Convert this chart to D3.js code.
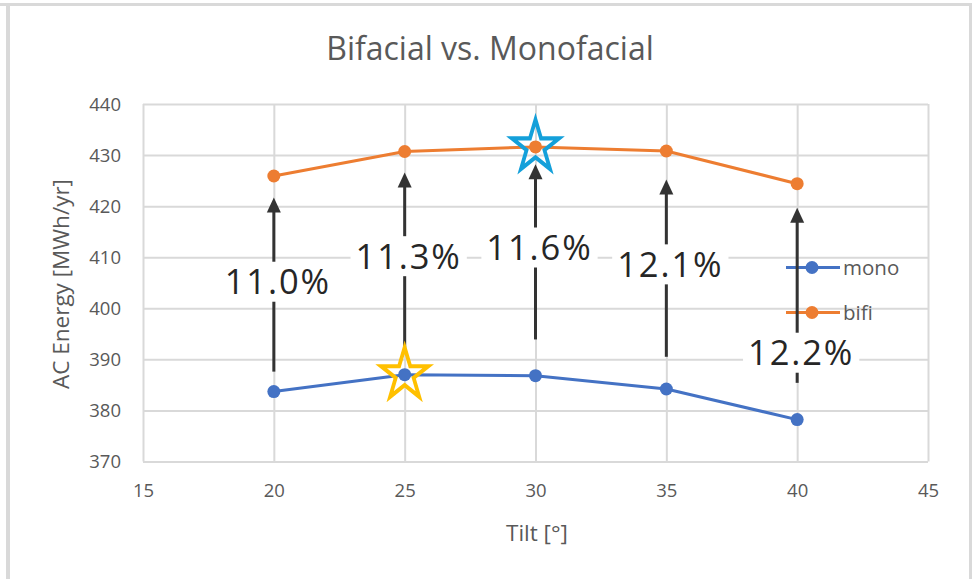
<!DOCTYPE html>
<html>
<head>
<meta charset="utf-8">
<script src="https://cdn.jsdelivr.net/npm/d3@7"></script>
<style>
  html, body { margin: 0; padding: 0; background: #fff; }
  svg { display: block; }
</style>
</head>
<body>
<svg id="chart" width="979" height="579"></svg>
<script>
// ---- data ----
const tilts = [20, 25, 30, 35, 40];
const mono = [383.7, 387.0, 386.8, 384.2, 378.2];
const bifi = [425.9, 430.7, 431.6, 430.8, 424.4];
const gainLabels = ["11.0%", "11.3%", "11.6%", "12.1%", "12.2%"];
// annotation arrows, in AC Energy units
const arrowFrom = [387.6, 392.3, 393.9, 390.5, 385.4];
const arrowTo = [421.7, 426.6, 428.2, 425.2, 419.7];
const labelAt = [405.2, 410.2, 411.9, 408.6, 391.3];
const xTicks = [15, 20, 25, 30, 35, 40, 45];
const yTicks = [370, 380, 390, 400, 410, 420, 430, 440];
const seriesNames = ["mono", "bifi"];
const seriesColors = ["#4472C4", "#ED7D31"];

// ---- layout ----
const svg = d3.select("#chart");
const W = 979, H = 579;
const plot = { left: 143, right: 928, top: 104, bottom: 461.5 };
const x = d3.scaleLinear().domain([15, 45]).range([plot.left, plot.right]);
const y = d3.scaleLinear().domain([370, 440]).range([plot.bottom, plot.top]);
const font = "'Open Sans', 'Segoe UI', sans-serif";
const grey = "#595959";
const gridColor = "#d9d9d9";

svg.append("rect").attr("width", W).attr("height", H).attr("fill", "#fff");
// outer chart frame
svg.append("line").attr("x1", 0).attr("x2", 972).attr("y1", 4.5).attr("y2", 4.5)
  .attr("stroke", gridColor).attr("stroke-width", 3);
svg.append("line").attr("x1", 8).attr("x2", 8).attr("y1", 4).attr("y2", H)
  .attr("stroke", gridColor).attr("stroke-width", 4);
svg.append("line").attr("x1", 970.5).attr("x2", 970.5).attr("y1", 3).attr("y2", H)
  .attr("stroke", gridColor).attr("stroke-width", 3);

// gridlines via axes
const gx = svg.append("g").attr("transform", `translate(0,${plot.bottom})`)
  .call(d3.axisBottom(x).tickValues(xTicks).tickSize(-(plot.bottom - plot.top)).tickPadding(22));
const gy = svg.append("g").attr("transform", `translate(${plot.left},0)`)
  .call(d3.axisLeft(y).tickValues(yTicks).tickSize(-(plot.right - plot.left)).tickPadding(22));
[gx, gy].forEach(g => {
  g.select(".domain").remove();
  g.selectAll(".tick line").attr("stroke", gridColor).attr("stroke-width", 2);
  g.selectAll(".tick text").attr("fill", grey).attr("font-family", font).attr("font-size", 18.5);
});
gx.selectAll(".tick text").attr("dy", "0.71em");
gy.selectAll(".tick text").attr("dy", "0.35em");

// titles
svg.append("text").attr("x", 490).attr("y", 60).attr("text-anchor", "middle")
  .attr("font-family", font).attr("font-size", 32).attr("fill", grey)
  .text("Bifacial vs. Monofacial");
svg.append("text").attr("x", 537).attr("y", 541).attr("text-anchor", "middle")
  .attr("font-family", font).attr("font-size", 22.5).attr("fill", grey)
  .text("Tilt [°]");
svg.append("text").attr("transform", `translate(69,284) rotate(-90)`).attr("text-anchor", "middle")
  .attr("font-family", font).attr("font-size", 22.5).attr("fill", grey)
  .text("AC Energy [MWh/yr]");

// series
const series = [mono, bifi];
const line = d3.line().x((d, i) => x(tilts[i])).y(d => y(d));
series.forEach((vals, si) => {
  svg.append("path").datum(vals).attr("d", line).attr("fill", "none")
    .attr("stroke", seriesColors[si]).attr("stroke-width", 3).attr("stroke-linejoin", "round");
  svg.append("g").selectAll("circle").data(vals).join("circle")
    .attr("cx", (d, i) => x(tilts[i])).attr("cy", d => y(d)).attr("r", 6.5)
    .attr("fill", seriesColors[si]);
});

// legend
const legend = svg.append("g");
seriesNames.forEach((name, i) => {
  const ly = 267.5 + i * 45;
  legend.append("line").attr("x1", 786).attr("x2", 840).attr("y1", ly).attr("y2", ly)
    .attr("stroke", seriesColors[i]).attr("stroke-width", 3);
  legend.append("circle").attr("cx", 812).attr("cy", ly).attr("r", 6.5).attr("fill", seriesColors[i]);
  legend.append("text").attr("x", 843).attr("y", ly).attr("dy", "0.35em")
    .attr("font-family", font).attr("font-size", 20.5).attr("fill", grey).text(name);
});

// arrows
const dark = "#333333";
const ann = svg.append("g");
tilts.forEach((t, i) => {
  const ax = x(t);
  const y0 = y(arrowFrom[i]);
  const yTip = y(arrowTo[i]);
  const headH = 15, headW = 14;
  ann.append("line").attr("x1", ax).attr("x2", ax).attr("y1", y0).attr("y2", yTip + headH - 1)
    .attr("stroke", dark).attr("stroke-width", 3);
  ann.append("path")
    .attr("d", `M${ax},${yTip} L${ax + headW / 2},${yTip + headH} L${ax - headW / 2},${yTip + headH} Z`)
    .attr("fill", dark);
});
// labels with white boxes
tilts.forEach((t, i) => {
  const cx = x(t) + 4;
  const cy = y(labelAt[i]);
  const g = ann.append("g");
  const txt = g.append("text").attr("x", cx).attr("y", cy).attr("dy", "0.36em")
    .attr("text-anchor", "middle").attr("font-family", font).attr("font-size", 34.5)
    .attr("letter-spacing", 1.9).attr("fill", "#262626").text(gainLabels[i]);
  const bb = txt.node().getBBox();
  g.insert("rect", "text").attr("x", bb.x - 5).attr("y", cy - 20).attr("width", bb.width + 10)
    .attr("height", 40).attr("fill", "#fff");
});

// highlight stars
const star = d3.symbol().type(d3.symbolStar).size(26 * 26 / 0.8908130915292852);
const stars = [
  { idx: 1, vals: mono, color: "#FFC000" },
  { idx: 2, vals: bifi, color: "#14A0DA" }
];
stars.forEach(s => {
  svg.append("path").attr("d", star())
    .attr("transform", `translate(${x(tilts[s.idx])},${y(s.vals[s.idx])}) scale(0.95,1.05)`)
    .attr("fill", "none").attr("stroke", s.color).attr("stroke-width", 4)
    .attr("stroke-linejoin", "miter");
});
</script>
</body>
</html>
